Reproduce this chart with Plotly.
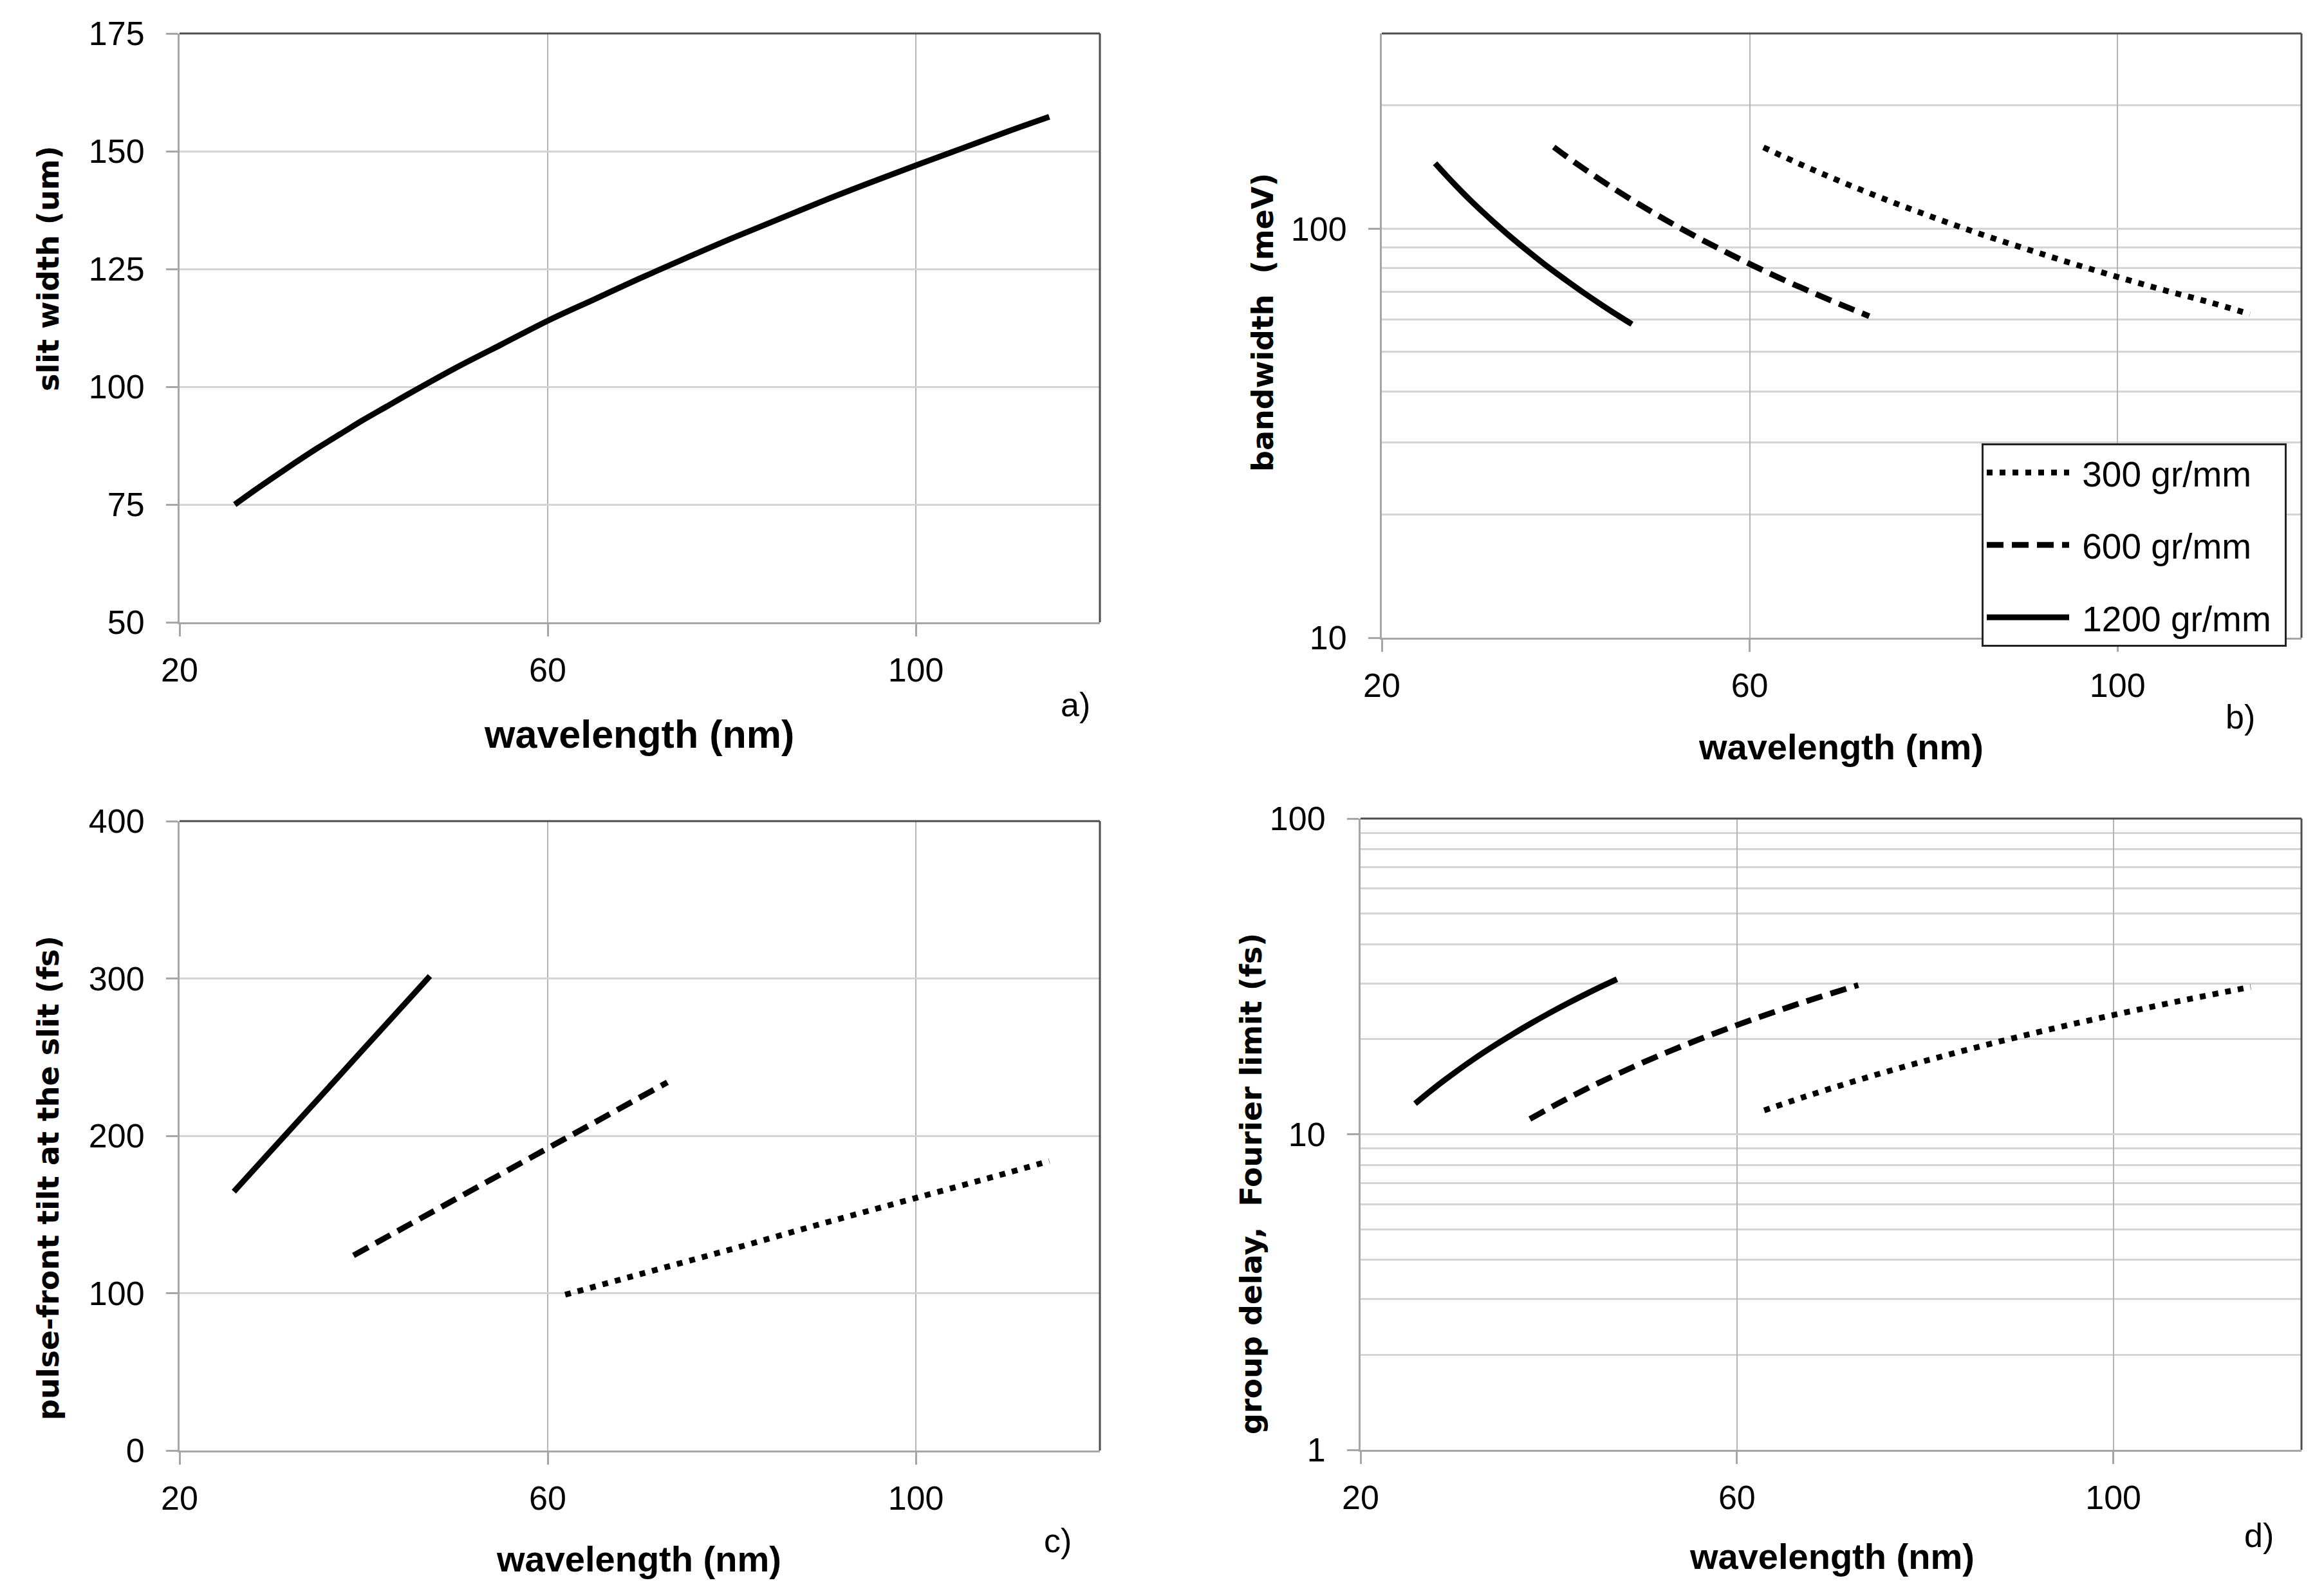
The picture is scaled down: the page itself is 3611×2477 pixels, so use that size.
import math
import plotly.graph_objects as go

# ---------------- data ----------------
# a) slit width vs wavelength
a_wl = [26, 28, 30, 32.5, 35, 37.5, 40, 42.5, 45, 50, 55, 60, 65, 70, 75, 80, 85, 90, 95, 100, 105, 110, 114.5]
a_slit = [75, 77.8, 80.5, 83.8, 87, 90, 93, 95.8, 98.6, 104, 109, 114, 118.5, 123, 127.3, 131.5, 135.5, 139.5, 143.3, 147, 150.6, 154.2, 157.3]

# b) bandwidth (meV)
b_wl_300 = [61.5, 66, 70, 75, 80, 85, 90, 95, 100, 105, 110, 114.4]
b_bw_300 = [158, 142.1, 130.1, 117.3, 106.5, 97.2, 89.3, 82.3, 76.2, 70.8, 66.1, 61.8]
b_wl_600 = [38.7, 40, 42, 45, 48, 51, 54, 57, 60, 63, 66, 69, 73]
b_bw_600 = [158.3, 150.6, 140.0, 126.2, 114.6, 104.6, 96.0, 88.6, 82.0, 76.2, 71.1, 66.5, 61.1]
b_wl_1200 = [25.8, 27, 28, 29, 30, 31, 32, 34, 36, 38, 40, 42, 44, 46, 47.2]
b_bw_1200 = [144.5, 135.0, 127.8, 121.2, 115.2, 109.7, 104.6, 95.5, 87.7, 80.8, 74.9, 69.6, 64.9, 60.7, 58.4]

# c) pulse-front tilt at the slit (fs)
c_wl_300 = [61.9, 70, 80, 90, 100, 110, 114.5]
c_pft_300 = [99, 112, 128, 144.5, 160.5, 176.5, 184]
c_wl_600 = [38.9, 45, 50, 55, 60, 65, 73]
c_pft_600 = [124, 143.7, 159.8, 175.9, 192.1, 208.2, 234]
c_wl_1200 = [25.9, 30, 35, 40, 45, 47.2]
c_pft_1200 = [164.5, 190.9, 223.0, 255.2, 287.3, 301.5]

# d) group delay, Fourier limit (fs)
d_wl_300 = [62.9, 67, 72, 77, 82, 87, 92, 97, 102, 107, 112, 114.6]
d_gd_300 = [11.9, 13.08, 14.57, 16.12, 17.71, 19.36, 21.05, 22.79, 24.57, 26.40, 28.27, 29.26]
d_wl_600 = [38, 41, 44, 47, 50, 53, 56, 59, 62, 65, 68, 72.9]
d_gd_600 = [11.17, 12.52, 13.92, 15.36, 16.86, 18.40, 19.98, 21.61, 23.28, 24.99, 26.74, 29.68]
d_wl_1200 = [25.8, 27, 28, 29, 30, 32, 34, 36, 38, 40, 42, 44, 46, 47.25]
d_gd_1200 = [12.5, 13.38, 14.13, 14.89, 15.67, 17.27, 18.91, 20.60, 22.34, 24.13, 25.96, 27.84, 29.76, 30.98]

series_names = ["300 gr/mm", "600 gr/mm", "1200 gr/mm"]
x_ticks = [20, 60, 100]

# ---------------- geometry / style ----------------
W, H = 3611, 2477
OFF = 8  # page body margin compensation
def fx(px):
    return (px - OFF) / W
def fy(py):
    return 1 - (py - OFF) / H

TICK_FONT = dict(family="Liberation Sans, Arial, sans-serif", size=52, color="black")
LEG_FONT = dict(family="Liberation Sans, Arial, sans-serif", size=55, color="black")
GRID_V = "#B4B4B4"
GRID_H = "#D4D4D4"
AXIS_C = "#A6A6A6"
BORDER_C = "#4D4D4D"

LW = 9
styles = {
    "300 gr/mm": dict(color="black", width=LW, dash="9px,11px", shape="spline"),
    "600 gr/mm": dict(color="black", width=LW, dash="26px,13px", shape="spline"),
    "1200 gr/mm": dict(color="black", width=LW, dash="solid", shape="spline"),
}

fig = go.Figure()

# panel b traces first (legend)
for name, xs, ys in zip(series_names, [b_wl_300, b_wl_600, b_wl_1200], [b_bw_300, b_bw_600, b_bw_1200]):
    fig.add_trace(go.Scatter(x=xs, y=ys, mode="lines", name="\u00a0" + name + "\u00a0", line=styles[name],
                             xaxis="x2", yaxis="y2", legendgroup=name, showlegend=True))
# panel a
fig.add_trace(go.Scatter(x=a_wl, y=a_slit, mode="lines", line=dict(color="black", width=LW, shape="spline"),
                         xaxis="x", yaxis="y", showlegend=False))
# panel c
for name, xs, ys in zip(series_names, [c_wl_300, c_wl_600, c_wl_1200], [c_pft_300, c_pft_600, c_pft_1200]):
    fig.add_trace(go.Scatter(x=xs, y=ys, mode="lines", name=name, line=styles[name],
                             xaxis="x3", yaxis="y3", showlegend=False))
# panel d
for name, xs, ys in zip(series_names, [d_wl_300, d_wl_600, d_wl_1200], [d_gd_300, d_gd_600, d_gd_1200]):
    fig.add_trace(go.Scatter(x=xs, y=ys, mode="lines", name=name, line=styles[name],
                             xaxis="x4", yaxis="y4", showlegend=False))

def xaxis(domain, anchor):
    return dict(domain=domain, anchor=anchor, range=[20, 120], tickvals=x_ticks,
                automargin=False,
                showgrid=True, gridcolor=GRID_V, gridwidth=2, zeroline=False,
                showline=True, linecolor=AXIS_C, linewidth=3,
                ticks="outside", ticklen=19, tickwidth=3, tickcolor=AXIS_C,
                tickfont=TICK_FONT, ticklabelstandoff=8)

def yaxis_lin(domain, anchor, rng, dt):
    return dict(domain=domain, anchor=anchor, range=rng, dtick=dt, tick0=rng[0],
                automargin=False,
                showgrid=True, gridcolor=GRID_H, gridwidth=3, zeroline=False,
                showline=True, linecolor=AXIS_C, linewidth=3,
                ticks="outside", ticklen=18, tickwidth=3, tickcolor=AXIS_C,
                tickfont=TICK_FONT, ticklabelstandoff=23)

def yaxis_log(domain, anchor, rng, tv, minor_tv):
    return dict(domain=domain, anchor=anchor, type="log", range=rng, tickvals=tv,
                ticktext=[str(v) for v in tv], automargin=False,
                showgrid=True, gridcolor=GRID_H, gridwidth=3, zeroline=False,
                showline=True, linecolor=AXIS_C, linewidth=3,
                ticks="outside", ticklen=18, tickwidth=3, tickcolor=AXIS_C,
                tickfont=TICK_FONT, ticklabelstandoff=23,
                minor=dict(tickvals=minor_tv, showgrid=True, gridcolor=GRID_H, gridwidth=3, ticks=""))

dom_a_x = [fx(279), fx(1709)]; dom_a_y = [fy(967), fy(52)]
dom_b_x = [fx(2147), fx(3576)]; dom_b_y = [fy(991), fy(52)]
dom_c_x = [fx(279), fx(1709)]; dom_c_y = [fy(2254), fy(1276)]
dom_d_x = [fx(2114), fx(3576)]; dom_d_y = [fy(2253), fy(1272)]

b_minor = [20, 30, 40, 50, 60, 70, 80, 90, 200]
d_minor = [2, 3, 4, 5, 6, 7, 8, 9, 20, 30, 40, 50, 60, 70, 80, 90]

fig.update_layout(
    template="none",
    width=W, height=H,
    margin=dict(l=0, r=0, t=0, b=0, pad=0, autoexpand=False),
    paper_bgcolor="white", plot_bgcolor="white",
    xaxis=xaxis(dom_a_x, "y"),
    yaxis=yaxis_lin(dom_a_y, "x", [50, 175], 25),
    xaxis2=xaxis(dom_b_x, "y2"),
    yaxis2=yaxis_log(dom_b_y, "x2", [1, math.log10(300)], [10, 100], b_minor),
    xaxis3=xaxis(dom_c_x, "y3"),
    yaxis3=yaxis_lin(dom_c_y, "x3", [0, 400], 100),
    xaxis4=xaxis(dom_d_x, "y4"),
    yaxis4=yaxis_log(dom_d_y, "x4", [0, 2], [1, 10, 100], d_minor),
    showlegend=True,
    legend=dict(x=fx(3079), y=fy(689), xanchor="left", yanchor="top",
                bordercolor="#222222", borderwidth=3, bgcolor="white",
                font=LEG_FONT, traceorder="grouped", tracegroupgap=38,
                itemwidth=128),
)

# top and right borders of each plot area (dark)
for xa, ya in [("x", "y"), ("x2", "y2"), ("x3", "y3"), ("x4", "y4")]:
    fig.add_shape(type="line", xref=f"{xa} domain", yref=f"{ya} domain",
                  x0=0, x1=1, y0=1, y1=1, line=dict(color=BORDER_C, width=3))
    fig.add_shape(type="line", xref=f"{xa} domain", yref=f"{ya} domain",
                  x0=1, x1=1, y0=0, y1=1, line=dict(color=BORDER_C, width=3))

def ann(text, px, py, size, family, angle=0):
    fig.add_annotation(text=text, x=fx(px), y=fy(py), xref="paper", yref="paper",
                       xanchor="center", yanchor="middle", showarrow=False, textangle=angle,
                       font=dict(family=family, size=size, color="black"))

YT = "DejaVu Sans, Verdana, sans-serif"
XT = "Liberation Sans, Arial, sans-serif"
ann("<b>slit width (um)</b>", 75, 417, 46, YT, -90)
ann("<b>bandwidth  (meV)</b>", 1962, 501, 46, YT, -90)
ann("<b>pulse-front tilt at the slit (fs)</b>", 75, 1831, 46, YT, -90)
ann("<b>group delay,  Fourier limit (fs)</b>", 1944, 1840, 46, YT, -90)
ann("<b>wavelength (nm)</b>", 993, 1141, 61, XT)
ann("<b>wavelength (nm)</b>", 2860, 1160, 56, XT)
ann("<b>wavelength (nm)</b>", 992, 2422, 56, XT)
ann("<b>wavelength (nm)</b>", 2846, 2418, 56, XT)
ann("a)", 1671, 1095, 52, XT)
ann("b)", 3481, 1114, 52, XT)
ann("c)", 1643, 2394, 52, XT)
ann("d)", 3510, 2386, 52, XT)

fig.write_html("out.html")
